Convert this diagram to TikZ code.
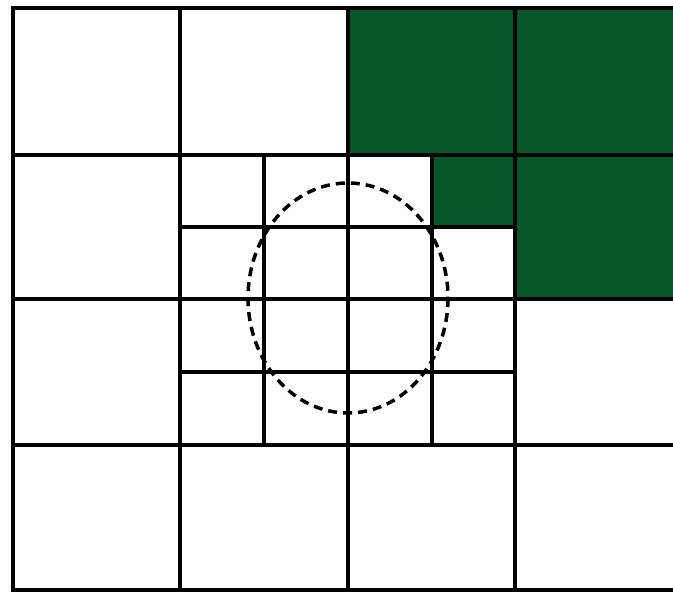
\documentclass[tikz,border=0pt]{standalone}
\definecolor{cellgreen}{RGB}{4,86,40}
\begin{document}
\begin{tikzpicture}[x=1pt,y=-1pt,
  gridline/.style={line width=3.5pt,black,line cap=rect},
  filled/.style={fill=cellgreen},
  dashring/.style={line width=3.5pt,dash pattern=on 9pt off 6pt}]
\useasboundingbox (0,0) rectangle (673,593);
\clip (0,0) rectangle (673,593);
% green cells
\fill[filled] (348,8) rectangle (680,155);
\fill[filled] (515,155) rectangle (680,299);
\fill[filled] (432,155) rectangle (515,227);
% main grid
\foreach \y in {8,155,299,445,590} \draw[gridline] (13,\y) -- (690,\y);
\foreach \x in {13,180,348,515} \draw[gridline] (\x,8) -- (\x,590);
% refined grid
\foreach \x in {264,432} \draw[gridline] (\x,155) -- (\x,445);
\foreach \y in {227,372} \draw[gridline] (180,\y) -- (515,\y);
% ellipse
\draw[dashring] (348,298) ellipse [x radius=100, y radius=115];
\end{tikzpicture}
\end{document}
